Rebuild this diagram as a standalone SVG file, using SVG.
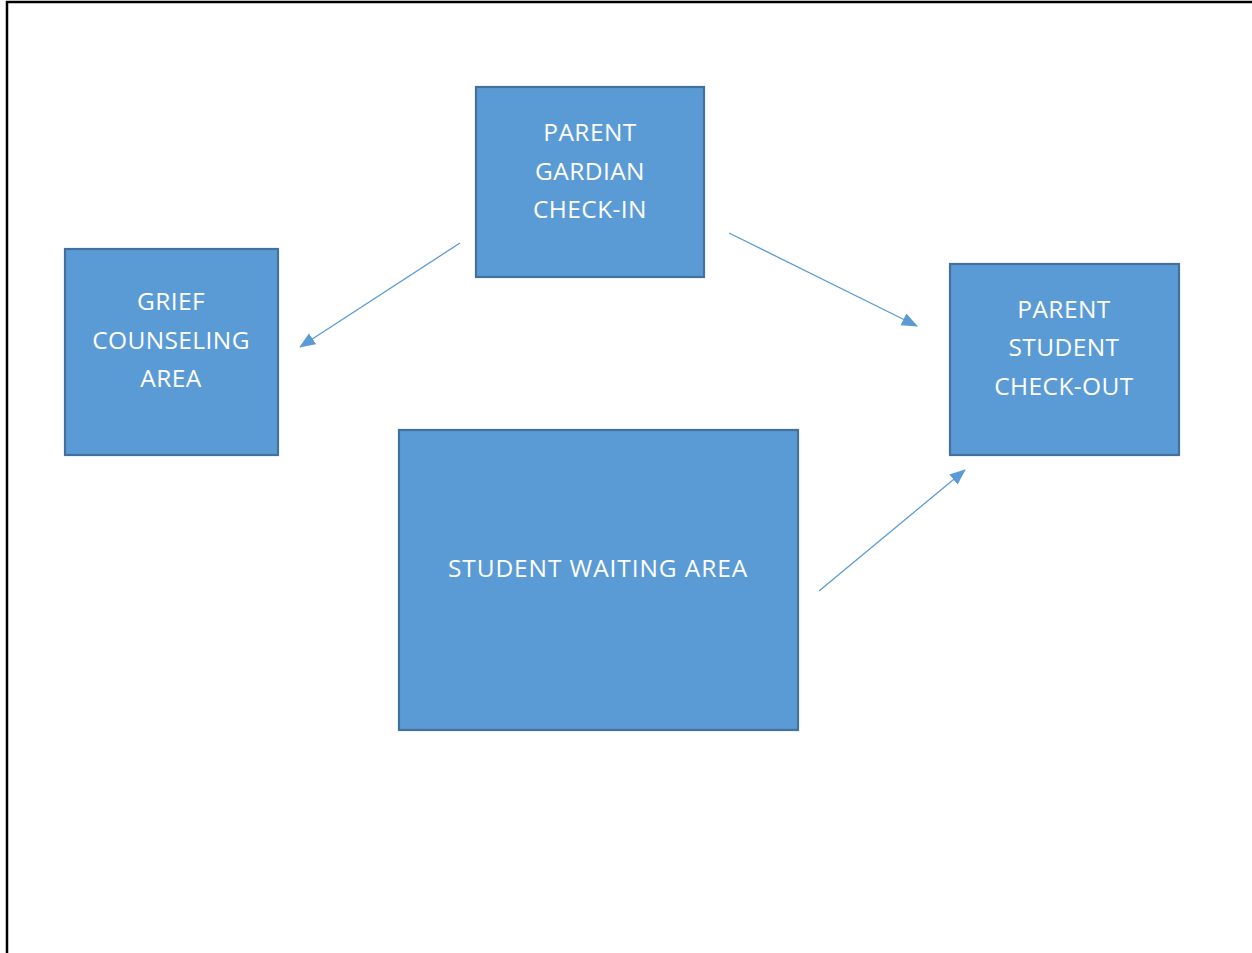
<svg xmlns="http://www.w3.org/2000/svg" width="1252" height="953" viewBox="0 0 1252 953">
<style>
.box{fill:#5B9BD5;stroke:#41719C;stroke-width:2.2}
.t{font-family:"Open Sans","Liberation Sans",sans-serif;font-size:24.5px;letter-spacing:0.4px;fill:#fff;text-anchor:middle}
.c{stroke:#5B9BD5;stroke-width:1.3;fill:none;marker-end:url(#ah)}
</style>
<defs>
<marker id="ah" viewBox="0 0 16 13" refX="15" refY="6.5" markerWidth="16" markerHeight="13" markerUnits="userSpaceOnUse" orient="auto">
<path d="M0,0 L16,6.5 L0,13 Z" fill="#5B9BD5"/>
</marker>
</defs>
<path d="M7,953 V2 H1252" fill="none" stroke="#000" stroke-width="2.5"/>
<g id="checkin">
<rect class="box" x="476" y="87" width="228" height="190"/>
<text class="t" x="590" y="141">PARENT</text>
<text class="t" x="590" y="180">GARDIAN</text>
<text class="t" x="590" y="218">CHECK-IN</text>
</g>
<g id="grief">
<rect class="box" x="65" y="249" width="213" height="206"/>
<text class="t" x="171" y="310">GRIEF</text>
<text class="t" x="171" y="349">COUNSELING</text>
<text class="t" x="171" y="387">AREA</text>
</g>
<g id="checkout">
<rect class="box" x="950" y="264" width="229" height="191"/>
<text class="t" x="1064" y="318">PARENT</text>
<text class="t" x="1064" y="356">STUDENT</text>
<text class="t" x="1064" y="395">CHECK-OUT</text>
</g>
<g id="waiting">
<rect class="box" x="399" y="430" width="399" height="300"/>
<text class="t" x="598" y="577" style="letter-spacing:0.9px">STUDENT WAITING AREA</text>
</g>
<g id="connectors">
<path class="c" d="M460,243 L300,347"/>
<path class="c" d="M729,233 L917,326"/>
<path class="c" d="M819,591 L965,470"/>
</g>
</svg>
